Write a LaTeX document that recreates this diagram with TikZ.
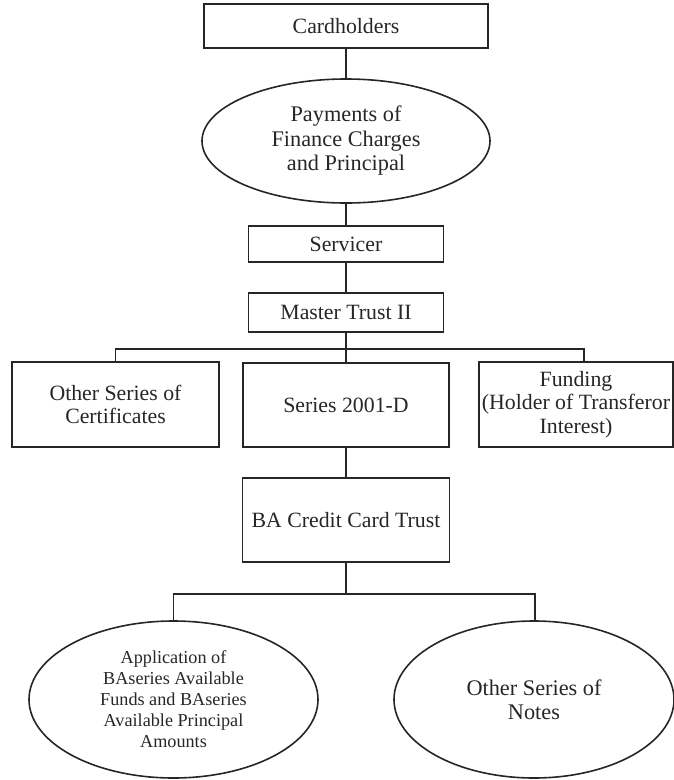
\documentclass[tikz,border=0pt]{standalone}
\usepackage{fontspec}
\setmainfont{Liberation Serif}
\usetikzlibrary{shapes.geometric}
\definecolor{ink}{gray}{0.15}
\tikzset{
  every node/.style={text=ink},
  conn/.style={draw=ink, line width=1.6pt},
  boxnode/.style={draw=ink, line width=1.6pt, rectangle, inner sep=0pt, align=center,
    font=\fontsize{21.8}{23.5}\selectfont},
  ellnode/.style={draw=ink, line width=1.6pt, ellipse, inner sep=0pt, align=center,
    font=\fontsize{22.3}{24.5}\selectfont},
}
\begin{document}
\begin{tikzpicture}[x=1pt,y=1pt]
\useasboundingbox (0,0) rectangle (674,-780);
% top chain
\node[boxnode, minimum width=284, minimum height=44] (card) at (346,-26) {Cardholders};
\node[ellnode, minimum width=288, minimum height=124] (pay) at (346,-141) {Payments of\\Finance Charges\\and Principal};
\node[boxnode, minimum width=195, minimum height=36] (serv) at (346,-244) {Servicer};
\node[boxnode, minimum width=195, minimum height=39] (mt) at (346,-312.5) {Master Trust II};
% second row
\node[boxnode, minimum width=207, minimum height=85] (oth) at (115.5,-404.5) {Other Series of\\Certificates};
\node[boxnode, minimum width=206, minimum height=84] (ser) at (346,-405) {Series 2001-D};
\node[boxnode, minimum width=194, minimum height=85] (fund) at (576,-404.5) {Funding\\(Holder of Transferor\\Interest)};
% BA trust
\node[boxnode, minimum width=207, minimum height=84] (ba) at (346,-520) {BA Credit Card Trust};
% bottom ellipses
\node[ellnode, minimum width=289, minimum height=157, font=\fontsize{18.2}{21}\selectfont] (app) at (173.5,-699.5) {Application of\\BAseries Available\\Funds and BAseries\\Available Principal\\Amounts};
\node[ellnode, minimum width=280, minimum height=157] (notes) at (534,-699.5) {Other Series of\\Notes};
% junctions
\coordinate (j1) at (346,-349);
\coordinate (j2) at (346,-594);
% connectors
\draw[conn] (card.south) -- (pay.north);
\draw[conn] (pay.south) -- (serv.north);
\draw[conn] (serv.south) -- (mt.north);
\draw[conn] (mt.south) -- (j1);
\draw[conn] (oth.north) |- (j1) -| ([xshift=8pt]fund.north);
\draw[conn] (j1) -- (ser.north);
\draw[conn] (ser.south) -- (ba.north);
\draw[conn] (ba.south) -- (j2);
\draw[conn] (app.north) |- (j2) -| ([xshift=1pt]notes.north);
\end{tikzpicture}
\end{document}
